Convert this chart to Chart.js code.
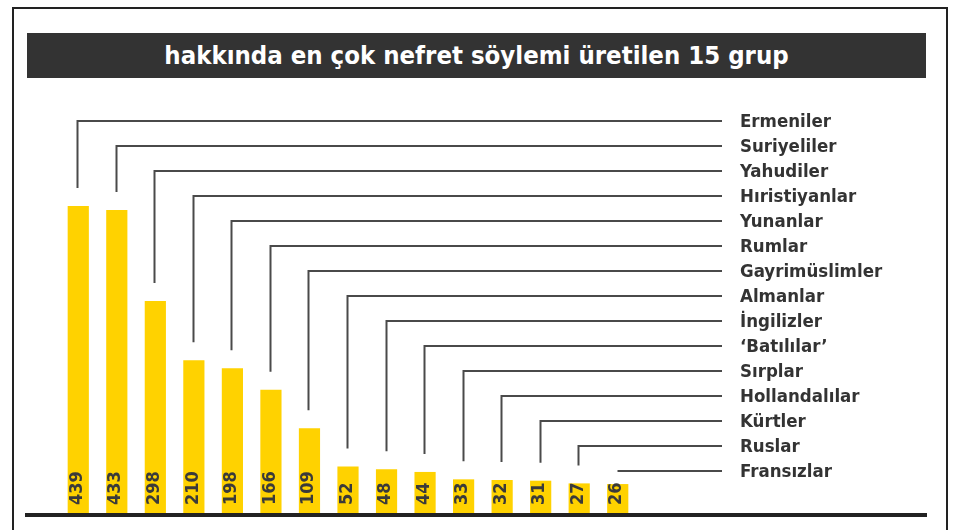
<!DOCTYPE html>
<html lang="tr">
<head>
<meta charset="utf-8">
<title>hakkında en çok nefret söylemi üretilen 15 grup</title>
<script src="https://cdn.jsdelivr.net/npm/chart.js@4"></script>
<style>
  html, body { margin: 0; padding: 0; background: #fff; }
  #wrap { position: relative; width: 958px; height: 530px; overflow: hidden; background: #fff; }
  #frame {
    position: absolute; left: 12px; top: 7px; width: 932px; height: 540px;
    border: 2px solid #222; box-sizing: content-box;
  }
  #title {
    position: absolute; left: 27px; top: 33px; width: 899px; height: 45px;
    background: #333; color: #fff; text-align: center;
    font: bold 25.5px "DejaVu Sans Condensed", "DejaVu Sans", sans-serif;
    line-height: 45px;
  }
  #chartBox { position: absolute; left: 0; top: 0; width: 958px; height: 530px; }
</style>
</head>
<body>
<div id="wrap">
  <div id="frame"></div>
  <div id="title">hakkında en çok nefret söylemi üretilen 15 grup</div>
  <div id="chartBox"><canvas id="chart"></canvas></div>
</div>
<script>
// veriler
const groups = ["Ermeniler", "Suriyeliler", "Yahudiler", "Hıristiyanlar", "Yunanlar", "Rumlar",
  "Gayrimüslimler", "Almanlar", "İngilizler", "‘Batılılar’", "Sırplar", "Hollandalılar",
  "Kürtler", "Ruslar", "Fransızlar"];
const counts = [439, 433, 298, 210, 198, 166, 109, 52, 48, 44, 33, 32, 31, 27, 26];

const BAR_COLOR = "#ffd200";
const LINE_COLOR = "#4a4a4a";
const TEXT_COLOR = "#333";
const FONT = '"DejaVu Sans Condensed", "DejaVu Sans", sans-serif';

// satırlar: etiket + bağlantı çizgisi
const ROW_TOP = 121, ROW_STEP = 25, LINE_END = 722, LABEL_X = 740, GAP = 18;

const leaderLines = {
  id: "leaderLines",
  afterDatasetsDraw(chart) {
    const { ctx, chartArea } = chart;
    const meta = chart.getDatasetMeta(0);
    ctx.save();

    // taban çizgisi
    ctx.fillStyle = "#222";
    ctx.fillRect(25, chartArea.bottom, 902, 4);

    meta.data.forEach((bar, i) => {
      const y = ROW_TOP + ROW_STEP * i;
      const x = Math.round(bar.x) + 0.5;

      ctx.strokeStyle = LINE_COLOR;
      ctx.lineWidth = 2;
      ctx.beginPath();
      ctx.moveTo(LINE_END, y);
      ctx.lineTo(x - 1, y);
      if (bar.y - GAP > y) ctx.lineTo(x - 1, bar.y - GAP);
      ctx.stroke();

      // etiket
      ctx.fillStyle = TEXT_COLOR;
      ctx.font = "bold 18.5px " + FONT;
      ctx.textAlign = "left";
      ctx.textBaseline = "middle";
      ctx.fillText(groups[i], LABEL_X, y + 1);

      // değer (dikey, çubuğun içinde)
      ctx.save();
      ctx.translate(bar.x - 1, chartArea.bottom - 8);
      ctx.rotate(-Math.PI / 2);
      ctx.font = "bold 18px " + FONT;
      ctx.fillStyle = "#3a3a3a";
      ctx.textBaseline = "middle";
      ctx.fillText(String(counts[i]), 0, 0);
      ctx.restore();
    });
    ctx.restore();
  }
};

new Chart(document.getElementById("chart"), {
  type: "bar",
  data: {
    labels: groups,
    datasets: [{
      data: counts,
      base: -17,
      backgroundColor: BAR_COLOR,
      borderWidth: 0,
      barPercentage: 0.55,
      categoryPercentage: 1
    }]
  },
  options: {
    responsive: true,
    maintainAspectRatio: false,
    animation: false,
    layout: { padding: { left: 59, right: 321, top: 165, bottom: 17 } },
    plugins: { legend: { display: false }, tooltip: { enabled: false } },
    scales: {
      x: { display: false, offset: true },
      y: { display: false, min: -17, max: 500 }
    }
  },
  plugins: [leaderLines]
});
</script>
</body>
</html>
